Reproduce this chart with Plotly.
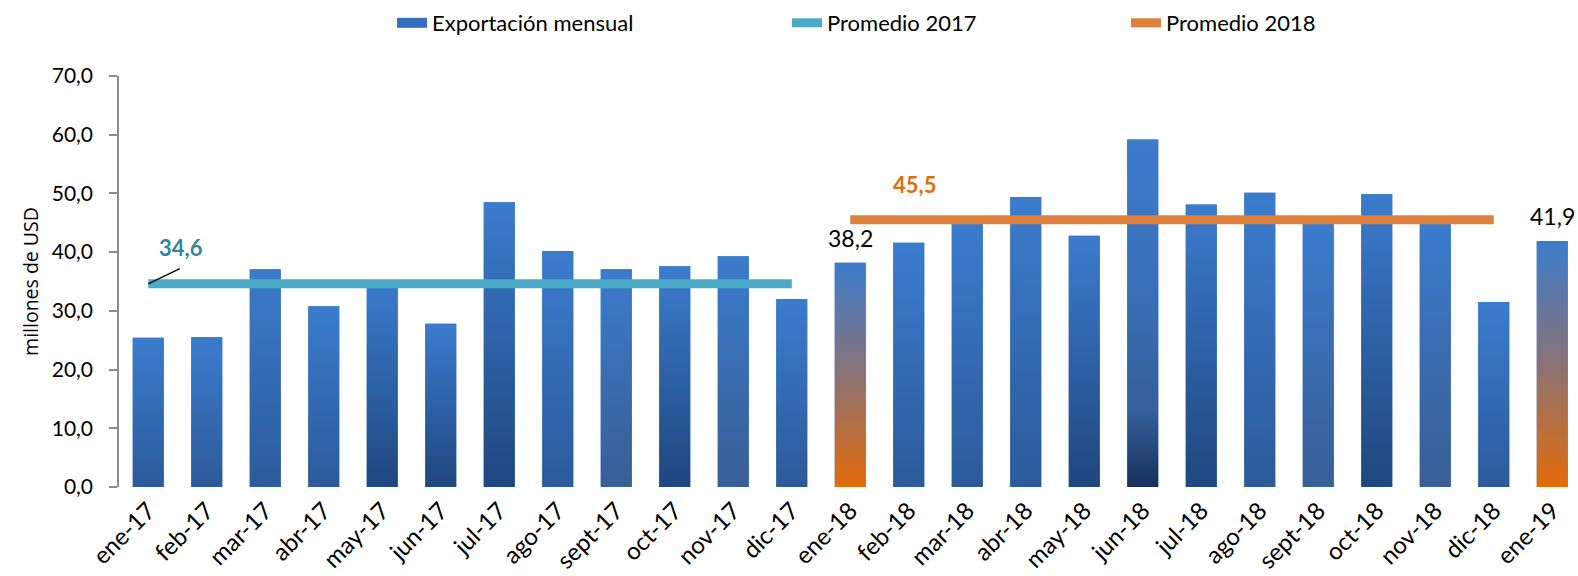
import plotly.graph_objects as go

months = ["ene-17", "feb-17", "mar-17", "abr-17", "may-17", "jun-17", "jul-17", "ago-17",
          "sept-17", "oct-17", "nov-17", "dic-17", "ene-18", "feb-18", "mar-18", "abr-18",
          "may-18", "jun-18", "jul-18", "ago-18", "sept-18", "oct-18", "nov-18", "dic-18", "ene-19"]
exports = [25.4, 25.5, 37.1, 30.8, 35.0, 27.8, 48.5, 40.2, 37.1, 37.6, 39.3, 32.0,
           38.2, 41.6, 45.3, 49.4, 42.8, 59.2, 48.1, 50.1, 45.0, 49.9, 45.4, 31.5, 41.9]
avg_2017 = 34.6
avg_2018 = 45.5
labelled = ["ene-18", "ene-19"]
y_ticks = [0, 10, 20, 30, 40, 50, 60, 70]

# ---- styling ----
FONT = "Lato"
TOP = "#3B7CCD"
TEAL = "#4AABC6"
ORANGE = "#DF7F3C"
BAR_W = 0.53
shade = {
    "M": [[0, "#2C5A9A"], [1, TOP]],
    "D": [[0, "#1F467F"], [1, TOP]],
    "G": [[0, "#385F96"], [0.5, "#3A6CB0"], [1, TOP]],
    "V": [[0, "#16305A"], [0.22, "#35609A"], [0.6, "#3A70B8"], [1, TOP]],
    "O": [[0, "#E46C0A"], [0.5, "#8A7275"], [1, TOP]],
}
bar_shade = ["M", "M", "M", "M", "D", "D", "D", "M", "G", "D", "G", "M",
             "O", "M", "M", "M", "D", "V", "D", "M", "G", "D", "G", "M", "O"]

xs = list(range(len(months)))
fig = go.Figure()

fig.add_trace(go.Bar(
    x=xs, y=exports, width=BAR_W, marker=dict(color=TOP, line=dict(width=0)),
    name="Exportación mensual", showlegend=False, hovertext=months,
))
# gradient fill on top of each bar
for i, v in enumerate(exports):
    fig.add_trace(go.Scatter(
        x=[i - BAR_W / 2, i + BAR_W / 2, i + BAR_W / 2, i - BAR_W / 2, i - BAR_W / 2],
        y=[0, 0, v, v, 0], mode="lines", line=dict(width=0), fill="toself",
        fillgradient=dict(type="vertical", colorscale=shade[bar_shade[i]]),
        showlegend=False, hoverinfo="skip",
    ))
# legend entry for the bars
fig.add_trace(go.Scatter(
    x=[None], y=[None], mode="lines", line=dict(color="#3570BE", width=16),
    name="Exportación mensual", legend="legend",
))

i17 = [i for i, m in enumerate(months) if m.endswith("17")]
i18 = [i for i, m in enumerate(months) if m.endswith("18")]
fig.add_trace(go.Scatter(
    x=[i17[0], i17[-1]], y=[avg_2017, avg_2017], mode="lines",
    line=dict(color=TEAL, width=9), name="Promedio 2017", legend="legend2",
))
fig.add_trace(go.Scatter(
    x=[i18[0], i18[-1]], y=[avg_2018, avg_2018], mode="lines",
    line=dict(color=ORANGE, width=9), name="Promedio 2018", legend="legend3",
))

# labels
fig.add_annotation(x=i17[0], y=avg_2017, text="", showarrow=True,
                   ax=33, ay=-16, arrowhead=0, arrowwidth=1.3, arrowcolor="black",
                   standoff=0)
fig.add_annotation(x=i17[0], y=avg_2017, text="<b>34,6</b>", showarrow=False,
                   xshift=33, yshift=36, font=dict(family=FONT, size=22, color="#31859C"))
fig.add_annotation(x=i18[0] + 1.1, y=avg_2018, text="<b>45,5</b>", showarrow=False,
                   yshift=35, font=dict(family=FONT, size=22, color="#E36C09"))
for m in labelled:
    i = months.index(m)
    fig.add_annotation(x=i, y=exports[i], text=f"{exports[i]:.1f}".replace(".", ","),
                       showarrow=False, yshift=25,
                       font=dict(family=FONT, size=23, color="black"))

legend_common = dict(orientation="h", yanchor="middle", y=1 - 23 / 576, xanchor="left",
                     xref="container", yref="container",
                     font=dict(family=FONT, size=22, color="black"),
                     bgcolor="rgba(0,0,0,0)")
fig.update_layout(
    width=1578, height=576,
    margin=dict(l=119, r=0, t=76, b=89, autoexpand=False),
    paper_bgcolor="white", plot_bgcolor="white",
    separators=",.",
    showlegend=True,
    legend=dict(legend_common, x=392 / 1578),
    legend2=dict(legend_common, x=787 / 1578),
    legend3=dict(legend_common, x=1126 / 1578),
    xaxis=dict(
        range=[-0.5, 24.44], tickmode="array", tickvals=xs, ticktext=months,
        tickangle=-45, showline=False, ticks="", showgrid=False, zeroline=False,
        ticklabelstandoff=4, automargin=False,
        tickfont=dict(family=FONT, size=24, color="black"),
    ),
    yaxis=dict(
        range=[0, 70], tickmode="array", tickvals=y_ticks, tickformat=".1f",
        showline=True, linecolor="#8C8C8C", linewidth=1.5,
        ticks="outside", ticklen=8, tickcolor="#8C8C8C", tickwidth=1.5,
        ticklabelstandoff=12, automargin=False,
        showgrid=False, zeroline=False,
        tickfont=dict(family=FONT, size=21, color="black"),
        title=dict(text="millones de USD", font=dict(family="Open Sans", size=19.5, color="black"),
                   standoff=8),
    ),
)

fig.write_html("out.html", config={"displayModeBar": False},
               post_script="document.body.style.margin='0px';")
